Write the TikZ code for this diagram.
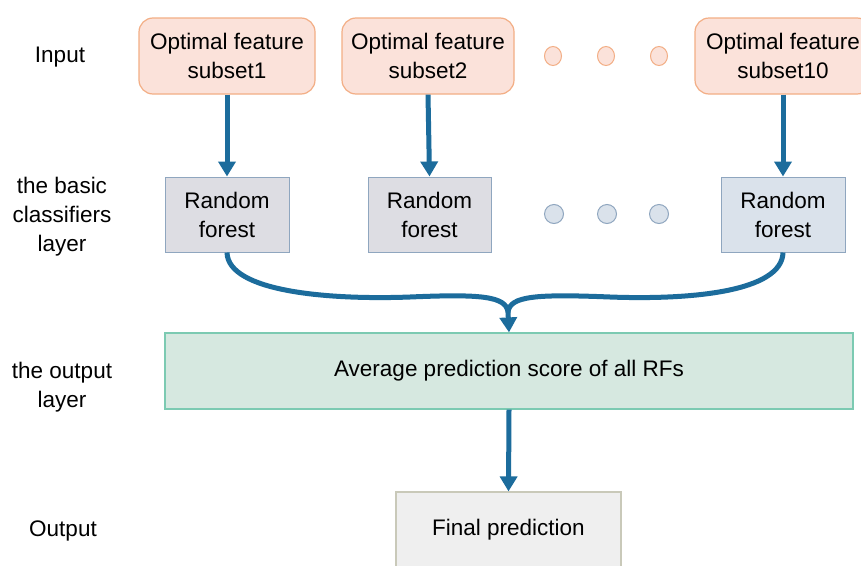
\documentclass[tikz,border=0pt]{standalone}
\usepackage{fontspec}
\setmainfont{Liberation Sans}
\usetikzlibrary{arrows.meta,shapes.geometric}
\definecolor{inFill}{HTML}{FBE2DA}
\definecolor{inDraw}{HTML}{F3AE85}
\definecolor{rfFill}{HTML}{DDDDE3}
\definecolor{rfFillB}{HTML}{DAE2EB}
\definecolor{rfDraw}{HTML}{8FA6BF}
\definecolor{grFill}{HTML}{D6E8E0}
\definecolor{grDraw}{HTML}{7CCAB2}
\definecolor{fiFill}{HTML}{EFEFEF}
\definecolor{fiDraw}{HTML}{C9C9B9}
\definecolor{arr}{HTML}{1C6C9C}
\tikzset{
  txt/.style={font=\fontsize{22.5}{29}\selectfont, align=center, inner sep=0pt},
  inbox/.style={txt, draw=inDraw, fill=inFill, line width=1.2pt, rounded corners=14pt, minimum height=76pt},
  rfbox/.style={txt, draw=rfDraw, fill=rfFill, line width=1pt, minimum width=124pt, minimum height=75pt},
  indot/.style={draw=inDraw, fill=inFill, line width=1pt, ellipse, minimum width=17pt, minimum height=19pt, inner sep=0pt},
  rfdot/.style={draw=rfDraw, fill=rfFillB, line width=1pt, circle, minimum size=19pt, inner sep=0pt},
  conn/.style={draw=arr, line width=5pt},
  tip/.style={-{Triangle[width=17pt,length=15pt]}},
  lbl/.style={txt}
}
\begin{document}
\begin{tikzpicture}[x=1pt,y=-1pt]
\useasboundingbox (0,0) rectangle (861,565);
\fill[white] (0,0) rectangle (861,565);
% labels
\node[lbl] (l1) at (60,57) {Input};
\node[lbl] (l2) at (62,217) {the basic\\classifiers\\layer};
\node[lbl] (l3) at (62,387) {the output\\layer};
\node[lbl] (l4) at (63,531) {Output};
% input boxes
\node[inbox, minimum width=176pt] (i1) at (227,56) {Optimal feature\\subset1};
\node[inbox, minimum width=172pt] (i2) at (428,56) {Optimal feature\\subset2};
\node[inbox, minimum width=176pt] (i3) at (783,56) {Optimal feature\\subset10};
\node[indot] (d1) at (553,56) {};
\node[indot] (d2) at (606,56) {};
\node[indot] (d3) at (659,56) {};
% RF boxes
\node[rfbox] (r1) at (227,214.5) {Random\\forest};
\node[rfbox, minimum width=123pt] (r2) at (429.5,214.5) {Random\\forest};
\node[rfbox, fill=rfFillB] (r3) at (783,214.5) {Random\\forest};
\node[rfdot] (e1) at (554,214) {};
\node[rfdot] (e2) at (607,214) {};
\node[rfdot] (e3) at (659,214) {};
% output layer
\node[txt, draw=grDraw, fill=grFill, line width=1.2pt, minimum width=688pt, minimum height=76pt] (g) at (509,371) {Average prediction score of all RFs};
\node[txt, draw=fiDraw, fill=fiFill, line width=1.2pt, minimum width=225pt, minimum height=76pt] (f) at (508.5,530) {Final prediction};
% arrows
\draw[conn, tip] (i1.south) -- (r1.north);
\draw[conn, tip] (i2.south) -- (r2.north);
\draw[conn, tip] (i3.south) -- (r3.north);
\coordinate (m) at (508,312);
\draw[conn] (r1.south) .. controls (228,292) and (330,300) .. (410,297) .. controls (480,294) and (506,296) .. (m);
\draw[conn] (r3.south) .. controls (782,292) and (690,300) .. (610,297) .. controls (536,294) and (510,296) .. (m);
\draw[conn, tip] (m) -- (g.north);
\draw[conn, tip] (g.south) -- (f.north);
\end{tikzpicture}
\end{document}
